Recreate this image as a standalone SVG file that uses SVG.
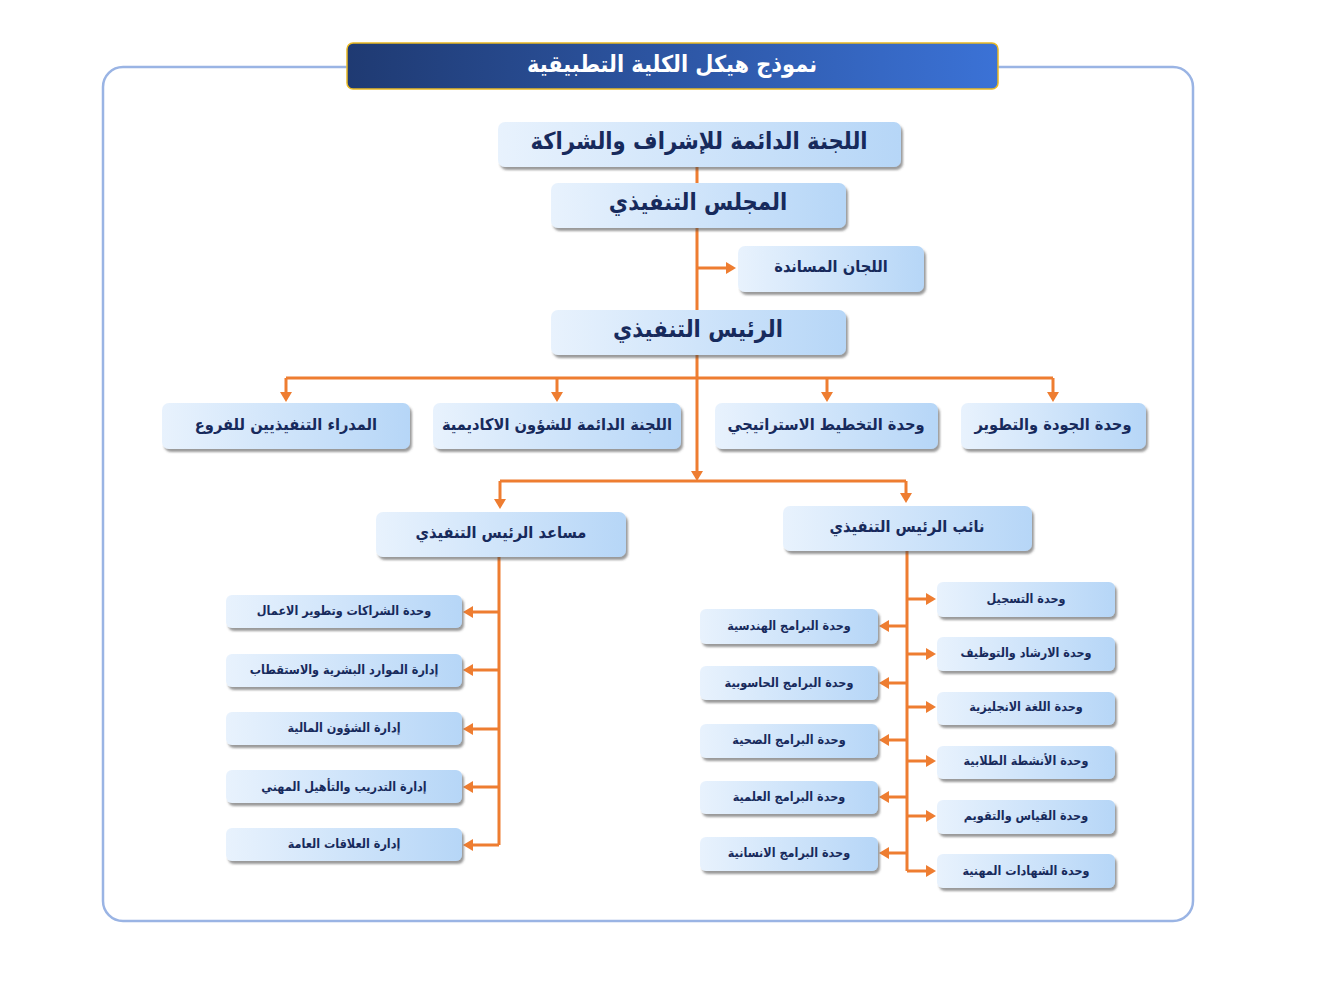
<svg xmlns="http://www.w3.org/2000/svg" width="1344" height="1008" viewBox="0 0 1344 1008">
<style>
.box{fill:url(#boxGrad);filter:url(#shadow);}
.t{font-family:"DejaVu Sans Condensed","DejaVu Sans","Noto Sans",sans-serif;font-weight:bold;fill:#172a5c;text-anchor:middle;dominant-baseline:central;}
.xl{font-size:23.5px;}
.l{font-size:16.3px;}
.s{font-size:12.5px;}
.c{fill:none;stroke:#ee7d31;stroke-width:3;}
.a{marker-end:url(#arr);}
</style>
<defs>
<linearGradient id="boxGrad" x1="0" y1="0" x2="1" y2="0">
<stop offset="0" stop-color="#e8f2fd"/>
<stop offset="1" stop-color="#b6d6f7"/>
</linearGradient>
<linearGradient id="titleGrad" x1="0" y1="0" x2="1" y2="0">
<stop offset="0" stop-color="#1f3a72"/>
<stop offset="1" stop-color="#3b72d6"/>
</linearGradient>
<filter id="shadow" x="-10%" y="-20%" width="125%" height="150%">
<feDropShadow dx="2" dy="3" stdDeviation="1.3" flood-color="#4a4a4a" flood-opacity="0.55"/>
</filter>
<marker id="arr" markerUnits="userSpaceOnUse" markerWidth="12" markerHeight="12" refX="7" refY="6" orient="auto">
<path d="M0,0 L10,6 L0,12 z" fill="#ee7d31"/>
</marker>
</defs>
<rect width="1344" height="1008" fill="#ffffff"/>
<rect x="103" y="67" width="1090" height="854" rx="20" fill="none" stroke="#9ab4e4" stroke-width="2.5"/>

<g id="title">
<rect x="347" y="43" width="651" height="46" rx="6" fill="url(#titleGrad)" stroke="#e9b923" stroke-width="1.5"/>
<text x="672" y="63" class="t" style="fill:#ffffff;font-size:23.2px">نموذج هيكل الكلية التطبيقية</text>
</g>

<g id="connectors">
<path class="c a" d="M697,167 V478"/>
<path class="c a" d="M697,268 H733"/>
<path class="c" d="M286,378 H1053"/>
<path class="c a" d="M286,378 V399"/>
<path class="c a" d="M557,378 V399"/>
<path class="c a" d="M827,378 V399"/>
<path class="c a" d="M1053,378 V399"/>
<path class="c" d="M500,481 H906"/>
<path class="c a" d="M500,481 V506"/>
<path class="c a" d="M906,481 V500"/>
<path class="c" d="M499,557 V845"/>
<path class="c a" d="M499,612 H466"/>
<path class="c a" d="M499,670 H466"/>
<path class="c a" d="M499,729 H466"/>
<path class="c a" d="M499,787 H466"/>
<path class="c a" d="M499,845 H466"/>
<path class="c" d="M907,551 V871"/>
<path class="c a" d="M907,599 H933"/>
<path class="c a" d="M907,654 H933"/>
<path class="c a" d="M907,707 H933"/>
<path class="c a" d="M907,761 H933"/>
<path class="c a" d="M907,816 H933"/>
<path class="c a" d="M907,871 H933"/>
<path class="c a" d="M907,626 H882"/>
<path class="c a" d="M907,683 H882"/>
<path class="c a" d="M907,740 H882"/>
<path class="c a" d="M907,797 H882"/>
<path class="c a" d="M907,853 H882"/>
</g>

<g id="n1"><rect class="box" x="498" y="122" width="403" height="45" rx="7"/><text class="t xl" x="699" y="141">اللجنة الدائمة للإشراف والشراكة</text></g>
<g id="n2"><rect class="box" x="551" y="183" width="295" height="45" rx="7"/><text class="t xl" x="698" y="202">المجلس التنفيذي</text></g>
<g id="n3"><rect class="box" x="738" y="246" width="186" height="46" rx="7"/><text class="t l" x="831" y="266">اللجان المساندة</text></g>
<g id="n4"><rect class="box" x="551" y="310" width="295" height="45" rx="7"/><text class="t xl" x="698" y="329">الرئيس التنفيذي</text></g>

<g id="n5"><rect class="box" x="162" y="403" width="248" height="46" rx="7"/><text class="t l" x="286" y="424">المدراء التنفيذيين للفروع</text></g>
<g id="n6"><rect class="box" x="433" y="403" width="248" height="46" rx="7"/><text class="t l" x="557" y="424">اللجنة الدائمة للشؤون الاكاديمية</text></g>
<g id="n7"><rect class="box" x="715" y="403" width="223" height="46" rx="7"/><text class="t l" x="826" y="424">وحدة التخطيط الاستراتيجي</text></g>
<g id="n8"><rect class="box" x="961" y="403" width="185" height="46" rx="7"/><text class="t l" x="1053" y="424">وحدة الجودة والتطوير</text></g>

<g id="n9"><rect class="box" x="376" y="512" width="250" height="45" rx="7"/><text class="t l" x="501" y="532">مساعد الرئيس التنفيذي</text></g>
<g id="n10"><rect class="box" x="783" y="506" width="249" height="45" rx="7"/><text class="t l" x="907" y="526">نائب الرئيس التنفيذي</text></g>

<g id="n11"><rect class="box" x="226" y="595" width="236" height="33" rx="6"/><text class="t s" x="344" y="610">وحدة الشراكات وتطوير الاعمال</text></g>
<g id="n12"><rect class="box" x="226" y="654" width="236" height="33" rx="6"/><text class="t s" x="344" y="669">إدارة الموارد البشرية والاستقطاب</text></g>
<g id="n13"><rect class="box" x="226" y="712" width="236" height="33" rx="6"/><text class="t s" x="344" y="727">إدارة الشؤون المالية</text></g>
<g id="n14"><rect class="box" x="226" y="770" width="236" height="33" rx="6"/><text class="t s" x="344" y="786">إدارة التدريب  والتأهيل المهني</text></g>
<g id="n15"><rect class="box" x="226" y="828" width="236" height="33" rx="6"/><text class="t s" x="344" y="843">إدارة العلاقات العامة</text></g>

<g id="n16"><rect class="box" x="937" y="582" width="178" height="35" rx="6"/><text class="t s" x="1026" y="598">وحدة التسجيل</text></g>
<g id="n17"><rect class="box" x="937" y="637" width="178" height="34" rx="6"/><text class="t s" x="1026" y="652">وحدة الارشاد والتوظيف</text></g>
<g id="n18"><rect class="box" x="937" y="692" width="178" height="33" rx="6"/><text class="t s" x="1026" y="706">وحدة اللغة الانجليزية</text></g>
<g id="n19"><rect class="box" x="937" y="746" width="178" height="33" rx="6"/><text class="t s" x="1026" y="760">وحدة الأنشطة الطلابية</text></g>
<g id="n20"><rect class="box" x="937" y="800" width="178" height="34" rx="6"/><text class="t s" x="1026" y="815">وحدة القياس والتقويم</text></g>
<g id="n21"><rect class="box" x="937" y="854" width="178" height="34" rx="6"/><text class="t s" x="1026" y="870">وحدة الشهادات المهنية</text></g>

<g id="n22"><rect class="box" x="700" y="609" width="178" height="35" rx="6"/><text class="t s" x="789" y="625">وحدة البرامج الهندسية</text></g>
<g id="n23"><rect class="box" x="700" y="666" width="178" height="34" rx="6"/><text class="t s" x="789" y="682">وحدة البرامج الحاسوبية</text></g>
<g id="n24"><rect class="box" x="700" y="724" width="178" height="34" rx="6"/><text class="t s" x="789" y="739">وحدة البرامج الصحية</text></g>
<g id="n25"><rect class="box" x="700" y="781" width="178" height="33" rx="6"/><text class="t s" x="789" y="796">وحدة البرامج العلمية</text></g>
<g id="n26"><rect class="box" x="700" y="837" width="178" height="34" rx="6"/><text class="t s" x="789" y="852">وحدة البرامج الانسانية</text></g>
</svg>
